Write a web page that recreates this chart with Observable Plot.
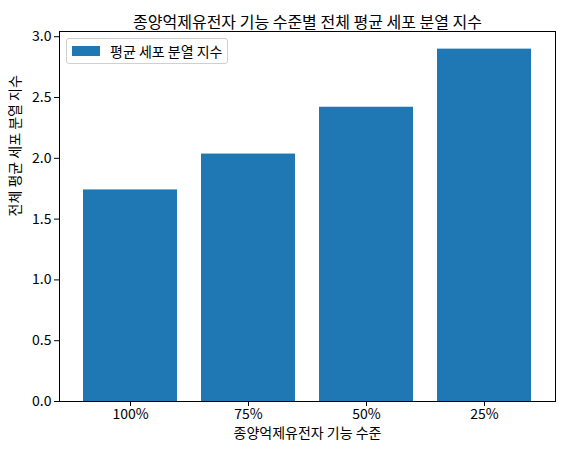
<!DOCTYPE html>
<html>
<head>
<meta charset="utf-8">
<script src="https://cdn.jsdelivr.net/npm/d3@7"></script>
<script src="https://cdn.jsdelivr.net/npm/@observablehq/plot@0.6"></script>
<style>
  body { margin: 0; background: white; }
  #wrap { position: relative; width: 564px; height: 454px; font-family: "Noto Sans CJK KR", "Noto Sans", sans-serif; }
  #legend { position: absolute; left: 66px; top: 38px; width: 162px; height: 26px; border: 1px solid #d0d0d0; border-radius: 3px; background: rgba(255,255,255,0.8); box-sizing: border-box; font-size: 14px; color: #000; }
  #legend .sw { position: absolute; left: 5px; top: 7px; width: 28px; height: 10px; background: #1f77b4; }
  #legend .lb { position: absolute; left: 43px; top: 2px; white-space: nowrap; line-height: 20px; }
</style>
</head>
<body>
<div id="wrap"></div>
<script>
const categories = ["100%", "75%", "50%", "25%"];
const values = [1.74, 2.035, 2.42, 2.898];
const yTicks = [0, 0.5, 1.0, 1.5, 2.0, 2.5, 3.0];
const title = "종양억제유전자 기능 수준별 전체 평균 세포 분열 지수";
const xLabel = "종양억제유전자 기능 수준";
const yLabel = "전체 평균 세포 분열 지수";
const seriesName = "평균 세포 분열 지수";

const data = categories.map((c, i) => ({level: c, value: values[i]}));

const chart = Plot.plot({
  width: 564,
  height: 454,
  marginLeft: 59,
  marginRight: 9,
  marginTop: 31,
  marginBottom: 53,
  style: {fontFamily: '"Noto Sans CJK KR", "Noto Sans", sans-serif', fontSize: "14px", color: "#000", background: "white"},
  x: {domain: categories, paddingInner: 0.2, paddingOuter: 0.19, label: null},
  y: {domain: [0, 3.043], label: null},
  marks: [
    Plot.barY(data, {x: "level", y: "value", fill: "#1f77b4"}),
    Plot.frame({stroke: "black", strokeWidth: 1}),
    Plot.axisX({tickSize: 5, tickPadding: 3, label: null, stroke: "black", fill: "black", fontSize: 14}),
    Plot.axisY({ticks: yTicks, tickSize: 5, tickPadding: 3, tickFormat: d3.format(".1f"), label: null, stroke: "black", fill: "black", fontSize: 14}),
    Plot.text([title], {frameAnchor: "top", dy: -15, fontSize: 16, fill: "black"}),
    Plot.text([xLabel], {frameAnchor: "bottom", dy: 36, fontSize: 14, fill: "black"}),
    Plot.text([yLabel], {frameAnchor: "left", dx: -44, rotate: -90, fontSize: 14, fill: "black"})
  ]
});

const wrap = document.getElementById("wrap");
wrap.appendChild(chart);
const legend = document.createElement("div");
legend.id = "legend";
legend.innerHTML = '<div class="sw"></div><div class="lb"></div>';
legend.querySelector(".lb").textContent = seriesName;
wrap.appendChild(legend);
</script>
</body>
</html>
